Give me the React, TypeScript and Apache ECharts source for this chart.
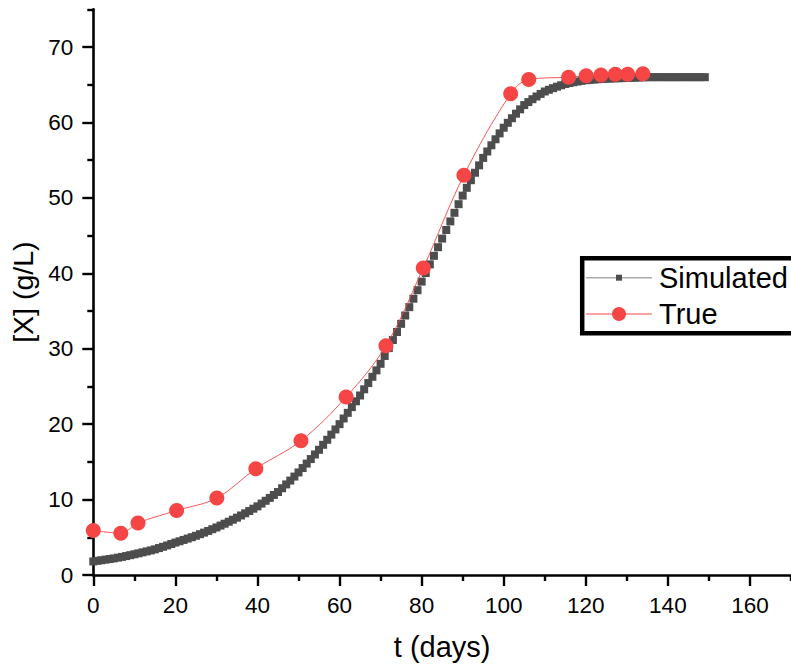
import React, { useEffect, useRef } from "react";
import * as echarts from "echarts";

// Simulated biomass, one value per day starting at day 0
const simStartDay = 0;
const simValues = [
  1.80, 1.88, 1.96, 2.04, 2.12, 2.20,
  2.30, 2.40, 2.51, 2.63, 2.75,
  2.87, 3.00, 3.13, 3.26, 3.40,
  3.57, 3.74, 3.92, 4.11, 4.30,
  4.47, 4.65, 4.83, 5.01, 5.20,
  5.41, 5.62, 5.84, 6.07, 6.30,
  6.55, 6.80, 7.06, 7.33, 7.60,
  7.89, 8.18, 8.48, 8.79, 9.10,
  9.47, 9.84, 10.22, 10.61, 11.00,
  11.50, 12.01, 12.52, 13.05, 13.60,
  14.18, 14.77, 15.37, 15.98, 16.60,
  17.26, 17.93, 18.61, 19.30, 20.00,
  20.75, 21.50, 22.26, 23.03, 23.80,
  24.62, 25.45, 26.28, 27.13, 28.00,
  29.04, 30.09, 31.15, 32.22, 33.30,
  34.40, 35.51, 36.63, 37.76, 38.90,
  40.04, 41.18, 42.32, 43.46, 44.60,
  45.74, 46.88, 48.02, 49.16, 50.30,
  51.33, 52.34, 53.33, 54.31, 55.30,
  56.15, 56.97, 57.77, 58.55, 59.30,
  59.95, 60.56, 61.16, 61.74, 62.30,
  62.70, 63.08, 63.44, 63.78, 64.10,
  64.33, 64.54, 64.74, 64.93, 65.10,
  65.22, 65.33, 65.43, 65.52, 65.60,
  65.65, 65.69, 65.73, 65.77, 65.80,
  65.82, 65.84, 65.86, 65.88, 65.90,
  65.92, 65.94, 65.96, 65.98, 66.00,
  66.00, 66.00, 66.00, 66.00, 66.00, 66.00, 66.00,
  66.00, 66.00, 66.00, 66.00, 66.00, 66.00, 66.00,
];

// Measured ("True") points
const trueDays = [0, 6.7, 10.9, 20.3, 30.1, 39.6, 50.6, 61.6, 71.3, 80.4, 90.3, 101.7, 106.1, 115.8, 120.1, 123.7, 127.2, 130.2, 133.9];
const trueValues = [5.9, 5.55, 6.9, 8.55, 10.2, 14.1, 17.8, 23.6, 30.4, 40.7, 53.0, 63.8, 65.7, 66.0, 66.2, 66.3, 66.4, 66.4, 66.45];

// Axis ticks
const xMajorTicks = [0, 20, 40, 60, 80, 100, 120, 140, 160];
const xMinorTicks = [10, 30, 50, 70, 90, 110, 130, 150, 170];
const yMajorTicks = [0, 10, 20, 30, 40, 50, 60, 70];
const yMinorTicks = [5, 15, 25, 35, 45, 55, 65, 75];

const seriesNames = ["Simulated", "True"];
const xTitle = "t (days)";
const yTitle = "[X] (g/L)";

const FONT = "'Liberation Sans', Arial, Helvetica, sans-serif";
const SIM_COLOR = "#4d4d4d";
const TRUE_COLOR = "#f64545";

export default function App() {
  const ref = useRef<HTMLDivElement>(null);

  useEffect(() => {
    document.body.style.margin = "0";
    if (!ref.current) return;
    const chart = echarts.init(ref.current, null, { renderer: "svg" });

    const simData = simValues.map((v, i) => [simStartDay + i, v]);
    const trueData = trueDays.map((d, i) => [d, trueValues[i]]);

    const axisLine = { show: true, lineStyle: { color: "#000", width: 2.6 } };

    const option: any = {
      animation: false,
      backgroundColor: "#fff",
      grid: { left: 93.3, right: -4, top: 9.3, bottom: 94 },
      xAxis: [
        {
          type: "value",
          min: 0,
          max: 170,
          position: "bottom",
          name: xTitle,
          nameLocation: "middle",
          nameGap: 57,
          nameTextStyle: { fontFamily: FONT, fontSize: 29, color: "#000" },
          axisLine,
          axisTick: { show: true, length: 11, lineStyle: { color: "#000", width: 2.4 }, customValues: xMajorTicks },
          axisLabel: { customValues: xMajorTicks, fontFamily: FONT, fontSize: 22.5, color: "#000", margin: 19 },
          splitLine: { show: false },
        },
        {
          type: "value",
          min: 0,
          max: 170,
          position: "bottom",
          axisLine: { show: false },
          axisTick: { show: true, length: 6, lineStyle: { color: "#000", width: 2.4 }, customValues: xMinorTicks },
          axisLabel: { show: false },
          splitLine: { show: false },
        },
      ],
      yAxis: [
        {
          type: "value",
          min: 0,
          max: 75,
          position: "left",
          name: yTitle,
          nameLocation: "middle",
          nameGap: 51,
          nameTextStyle: { fontFamily: FONT, fontSize: 28.5, color: "#000" },
          axisLine,
          axisTick: { show: true, length: 11, lineStyle: { color: "#000", width: 2.4 }, customValues: yMajorTicks },
          axisLabel: { customValues: yMajorTicks, fontFamily: FONT, fontSize: 22.5, color: "#000", margin: 20 },
          splitLine: { show: false },
        },
        {
          type: "value",
          min: 0,
          max: 75,
          position: "left",
          axisLine: { show: false },
          axisTick: { show: true, length: 6, lineStyle: { color: "#000", width: 2.4 }, customValues: yMinorTicks },
          axisLabel: { show: false },
          splitLine: { show: false },
        },
      ],
      series: [
        {
          name: seriesNames[0],
          type: "line",
          xAxisIndex: 0,
          yAxisIndex: 0,
          data: simData,
          symbol: "rect",
          symbolSize: 8,
          showAllSymbol: true,
          itemStyle: { color: SIM_COLOR },
          lineStyle: { color: "#999", width: 1 },
          clip: false,
          z: 2,
        },
        {
          name: seriesNames[1],
          type: "line",
          xAxisIndex: 0,
          yAxisIndex: 0,
          data: trueData,
          symbol: "circle",
          symbolSize: 15,
          smooth: 0.35,
          showAllSymbol: true,
          itemStyle: { color: TRUE_COLOR },
          lineStyle: { color: TRUE_COLOR, width: 0.9 },
          clip: false,
          z: 3,
        },
      ],
      graphic: [
        {
          type: "rect",
          shape: { x: 582.2, y: 258.3, width: 230, height: 75 },
          style: { fill: "#fff", stroke: "#000", lineWidth: 4.5 },
          z: 10,
        },
        {
          type: "line",
          shape: { x1: 586, y1: 277.7, x2: 652, y2: 277.7 },
          style: { stroke: "#aaa", lineWidth: 1.5 },
          z: 11,
        },
        {
          type: "rect",
          shape: { x: 616, y: 274.7, width: 6, height: 6 },
          style: { fill: SIM_COLOR },
          z: 12,
        },
        {
          type: "text",
          x: 659,
          y: 277.7,
          style: { text: seriesNames[0], fontFamily: FONT, fontSize: 29, fill: "#000", verticalAlign: "middle", align: "left" },
          z: 12,
        },
        {
          type: "line",
          shape: { x1: 586, y1: 314, x2: 652, y2: 314 },
          style: { stroke: TRUE_COLOR, lineWidth: 1 },
          z: 11,
        },
        {
          type: "circle",
          shape: { cx: 619, cy: 314, r: 7 },
          style: { fill: TRUE_COLOR },
          z: 12,
        },
        {
          type: "text",
          x: 659,
          y: 314,
          style: { text: seriesNames[1], fontFamily: FONT, fontSize: 29, fill: "#000", verticalAlign: "middle", align: "left" },
          z: 12,
        },
      ],
    };

    chart.setOption(option);
    return () => chart.dispose();
  }, []);

  return <div ref={ref} style={{ width: 791, height: 669 }} />;
}
